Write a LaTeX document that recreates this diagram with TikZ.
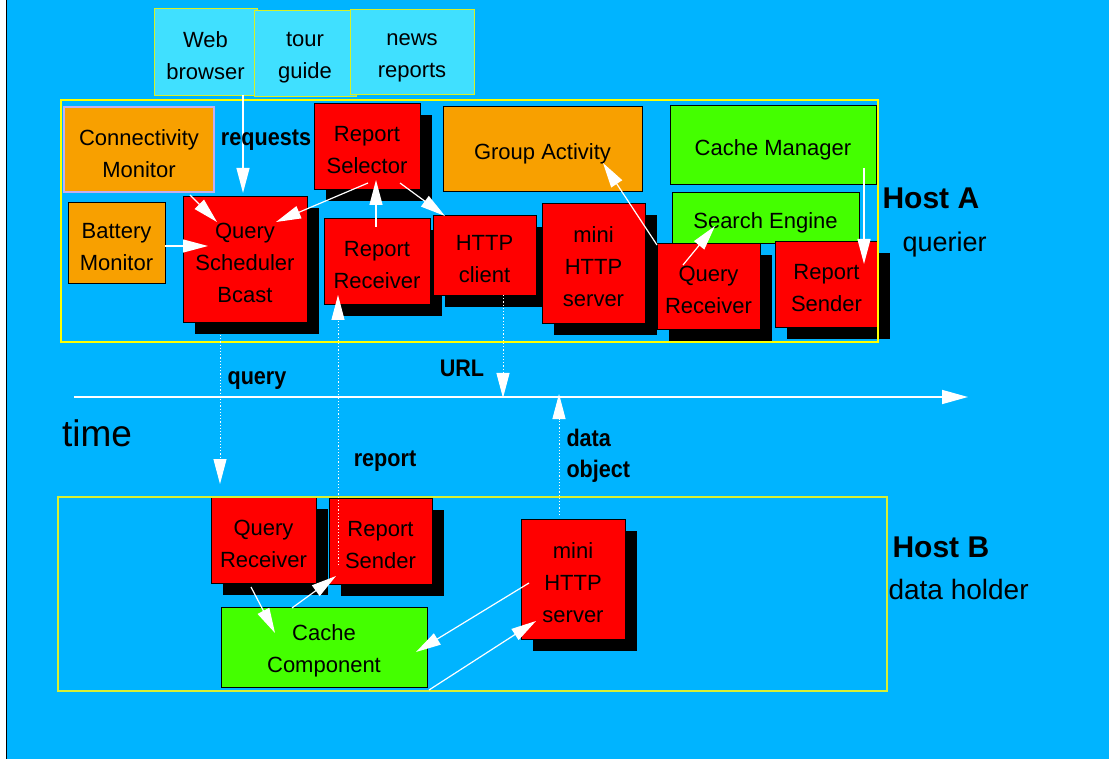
\documentclass[tikz,border=0pt]{standalone}
\usepackage{fontspec}
\setmainfont{Liberation Sans}
\newfontfamily\lblfont[FakeStretch=0.9]{Liberation Sans}
\usetikzlibrary{arrows.meta, shadows}
\definecolor{skyback}{RGB}{0,180,255}
\definecolor{appcyan}{RGB}{64,224,255}
\definecolor{appline}{RGB}{215,240,40}
\definecolor{monorange}{RGB}{248,160,0}
\definecolor{monline}{RGB}{195,175,240}
\definecolor{procred}{RGB}{255,0,0}
\definecolor{cachegreen}{RGB}{68,255,0}
\definecolor{hostaline}{RGB}{255,255,0}
\definecolor{hostbline}{RGB}{215,240,50}

\begin{document}
\begin{tikzpicture}[x=1pt, y=-1pt,
    tall/.style={execute at begin node={\rule{0pt}{#1}}},
    twoline/.style={tall=56pt},
    threeline/.style={tall=88pt},
    box/.style={draw=black, line width=0.8pt, inner sep=0pt, outer sep=0pt, align=center, tall=27pt, font=\fontsize{22}{32}\selectfont},
    appbox/.style={box, draw=appline, fill=appcyan},
    monbox/.style={box, fill=monorange},
    procbox/.style={box, fill=procred, drop shadow={shadow xshift=12pt, shadow yshift=-12pt, fill=black, opacity=1}},
    cachebox/.style={box, fill=cachegreen},
    hostframe/.style={line width=1.2pt},
    flow/.style={draw=white, line width=1.2pt, -{Triangle[length=25pt,width=13pt]}},
    msg/.style={flow, dotted, line width=1pt},
    lbl/.style={font=\lblfont\bfseries\fontsize{24}{31}\selectfont},
    hostlbl/.style={anchor=west, font=\bfseries\fontsize{30}{32}\selectfont},
    rolelbl/.style={anchor=west, font=\fontsize{27}{30}\selectfont}]
    \useasboundingbox (0,0) rectangle (1109,759);
    % Background
    \fill[white] (0,0) rectangle (1109,759);
    \fill[skyback] (7,0) rectangle (1109,759);
    \draw[black, line width=1.5pt] (6.5,0) -- (6.5,759);

    % Applications
    \node[appbox, twoline, minimum width=103, minimum height=87] (web) at (205.5,51.5) {Web\\browser};
    \node[appbox, twoline, minimum width=102, minimum height=86] (tour) at (305,53) {tour\\guide};
    \node[appbox, twoline, minimum width=124, minimum height=85] (news) at (412,51.5) {news\\reports};

    % Host A: querier
    \node[monbox, twoline, draw=monline, line width=1.5pt, minimum width=150, minimum height=85] (conn) at (139,149.5) {Connectivity\\Monitor};
    \node[monbox, twoline, minimum width=97, minimum height=81] (batt) at (116.5,242.5) {Battery\\Monitor};
    \node[procbox, threeline, minimum width=124, minimum height=126] (qsched) at (245,259) {Query\\Scheduler\\Bcast};
    \node[procbox, twoline, minimum width=106, minimum height=86] (rsel) at (367,146) {Report\\Selector};
    \node[procbox, twoline, minimum width=106, minimum height=86] (rrecv) at (377,261) {Report\\Receiver};
    \node[procbox, twoline, minimum width=103, minimum height=80] (hclient) at (484.5,255) {HTTP\\client};
    \node[procbox, threeline, minimum width=103, minimum height=120] (mservA) at (593.5,263) {mini\\HTTP\\server};
    \node[monbox, minimum width=199, minimum height=85] (group) at (542.5,148.5) {Group Activity};
    \node[cachebox, minimum width=206, minimum height=79] (cman) at (773,144.5) {Cache Manager};
    \node[cachebox, minimum width=187, minimum height=51] (seng) at (765.5,217.5) {Search Engine};
    \node[procbox, twoline, minimum width=103, minimum height=86] (qrecvA) at (708.5,286) {Query\\Receiver};
    \node[procbox, twoline, minimum width=103, minimum height=86] (rsendA) at (826.5,284) {Report\\Sender};
    \node[hostframe, draw=hostaline, minimum width=817, minimum height=242] (hostA) at (469.5,221) {};
    \node[hostlbl] (hostAname) at (879,198) {Host A};
    \node[rolelbl] (hostArole) at (899,245) {querier};

    % Host B: data holder
    \node[procbox, twoline, minimum width=105, minimum height=86] (qrecvB) at (263.5,540) {Query\\Receiver};
    \node[procbox, twoline, minimum width=103, minimum height=86] (rsendB) at (380.5,541) {Report\\Sender};
    \node[cachebox, twoline, minimum width=206, minimum height=80] (cache) at (324,647) {Cache\\Component};
    \node[procbox, threeline, minimum width=104, minimum height=120] (mservB) at (573,579) {mini\\HTTP\\server};
    \node[hostframe, draw=hostbline, minimum width=829, minimum height=194] (hostB) at (472.5,594) {};
    \node[hostlbl] (hostBname) at (889,547) {Host B};
    \node[rolelbl, font=\fontsize{28}{30}\selectfont] (hostBrole) at (885,589) {data holder};

    % Time axis
    \coordinate (t0) at (74,397);
    \coordinate (t1) at (968,397);
    \draw[flow, line width=1.5pt, -{Triangle[length=26pt,width=14pt]}] (t0) -- (t1);
    \node[font=\fontsize{37}{40}\selectfont] (timelbl) at (97,433) {time};

    % Local flows on Host A
    \draw[flow] ([shift={(37.5,0)}]web.south) -- ([shift={(-2,-3)}]qsched.north);
    \node[lbl] (reqlbl) at (266,140) {requests};
    \draw[flow] ([shift={(-24,3)}]conn.south east) -- ([shift={(34,26)}]qsched.north west);
    \draw[flow] ([shift={(0,3.5)}]batt.east) -- ([shift={(25,-13)}]qsched.west);
    \draw[flow] ([shift={(1,-6)}]rsel.south) -- ([shift={(93,26)}]qsched.north west);
    \draw[flow] ([shift={(-1,9)}]rrecv.north) -- ([shift={(9,-9)}]rsel.south);
    \draw[flow] ([shift={(33,-6)}]rsel.south) -- ([shift={(12,1)}]hclient.north west);
    \draw[flow] ([shift={(0,2)}]qrecvA.north west) -- ([shift={(60.5,-28)}]group.south);
    \draw[flow] ([shift={(26,22)}]qrecvA.north west) -- ([shift={(43,8.5)}]seng.west);
    \draw[flow] ([shift={(-12,-16)}]cman.south east) -- ([shift={(-14,23)}]rsendA.north east);

    % Messages between hosts
    \draw[msg] ([shift={(-25,13)}]qsched.south) -- ([shift={(-43.5,-13)}]qrecvB.north);
    \node[lbl] (querylbl) at (257,381) {query};
    \draw[msg] ([shift={(9,67)}]rsendB.north west) -- ([shift={(14,-9)}]rrecv.south west);
    \node[lbl] (replbl) at (385,461) {report};
    \draw[msg] ([shift={(18.5,0)}]hclient.south) -- ([shift={(18.5,103)}]hclient.south);
    \node[lbl] (urllbl) at (462,368) {URL};
    \draw[msg] ([shift={(-14,-4)}]mservB.north) -- ([shift={(-14,-125)}]mservB.north);
    \node[lbl, anchor=west, align=left] (datalbl) at (563,456) {data\\object};

    % Local flows on Host B
    \draw[flow] ([shift={(-12.5,4)}]qrecvB.south) -- ([shift={(54,26)}]cache.north west);
    \draw[flow] ([shift={(-32,1)}]cache.north) -- ([shift={(7,-8)}]rsendB.south west);
    \draw[flow] ([shift={(8,4)}]mservB.west) -- ([shift={(-11,5)}]cache.east);
    \draw[flow] ([shift={(2,3)}]cache.south east) -- ([shift={(15,42)}]mservB.west);
\end{tikzpicture}
\end{document}
